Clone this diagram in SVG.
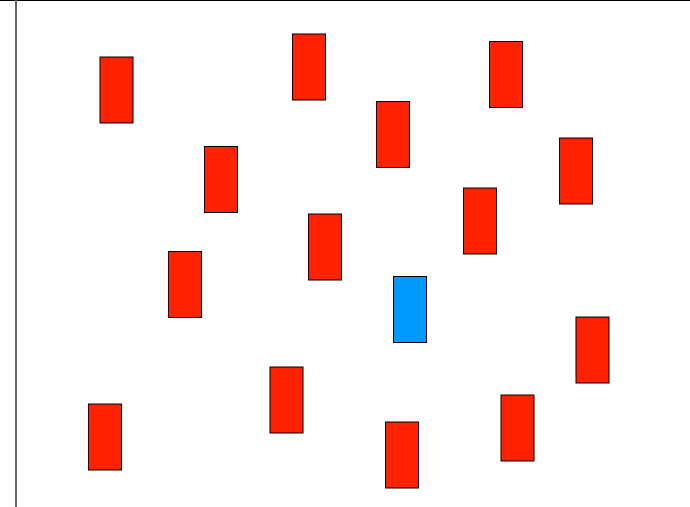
<svg xmlns="http://www.w3.org/2000/svg" width="690" height="507" viewBox="0 0 690 507">
<style>
.n{fill:#ff2200;stroke:#000;stroke-width:1}
.b{fill:#0099ff;stroke:#000;stroke-width:1}
</style>
<rect x="0" y="0" width="690" height="507" fill="#fff"/>
<g id="frame">
<line x1="0" y1="0.5" x2="690" y2="0.5" stroke="#000" stroke-width="1"/>
<line x1="16" y1="0" x2="16" y2="507" stroke="#666" stroke-width="2"/>
</g>
<g id="connectors"></g>
<g id="n1"><rect class="n" x="100" y="57" width="33" height="66"/></g>
<g id="n2"><rect class="n" x="292.5" y="34" width="33" height="66"/></g>
<g id="n3"><rect class="n" x="489.5" y="41.5" width="33" height="66"/></g>
<g id="n4"><rect class="n" x="376.5" y="101.5" width="33" height="66"/></g>
<g id="n5"><rect class="n" x="204.5" y="146.5" width="33" height="66"/></g>
<g id="n6"><rect class="n" x="559.5" y="138" width="33" height="66"/></g>
<g id="n7"><rect class="n" x="463.5" y="188" width="33" height="66"/></g>
<g id="n8"><rect class="n" x="308.5" y="214" width="33" height="66"/></g>
<g id="n9"><rect class="n" x="168.5" y="251.5" width="33" height="66"/></g>
<g id="n10"><rect class="b" x="393.5" y="276.5" width="33" height="66"/></g>
<g id="n11"><rect class="n" x="576" y="317" width="33" height="66"/></g>
<g id="n12"><rect class="n" x="270" y="367" width="33" height="66"/></g>
<g id="n13"><rect class="n" x="88.5" y="404" width="33" height="66"/></g>
<g id="n14"><rect class="n" x="501" y="395" width="33" height="66"/></g>
<g id="n15"><rect class="n" x="385.5" y="422" width="33" height="66"/></g>
</svg>
